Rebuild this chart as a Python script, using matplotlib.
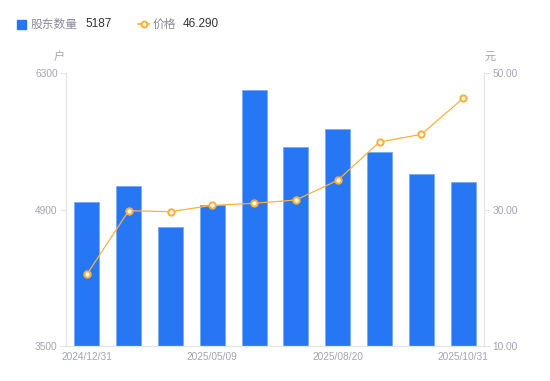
import matplotlib
matplotlib.use("Agg")
import matplotlib.pyplot as plt
from matplotlib.lines import Line2D
import numpy as np

plt.rcParams['font.family'] = ['Noto Sans CJK SC', 'DejaVu Sans']

categories = ["2024/12/31", "", "", "2025/05/09", "", "", "2025/08/20", "", "", "2025/10/31"]
holders = [4974, 5138, 4717, 4943, 6122, 5538, 5722, 5490, 5264, 5187]
prices = [20.50, 29.82, 29.68, 30.61, 30.91, 31.39, 34.28, 39.89, 41.01, 46.29]
left_ticks = [3500, 4900, 6300]
right_ticks = [10, 30, 50]

BLUE = "#2777f4"
ORANGE = "#fbb13c"
GRAY_TXT = "#a3a3b3"
AXIS_C = "#e3e3e8"

fig = plt.figure(figsize=(5.5, 3.81), dpi=100)
ax = fig.add_axes([66/550, 1-346/381, (484-66)/550, (346-73)/381])
x = np.arange(len(holders))
ax.bar(x, np.array(holders) - left_ticks[0], bottom=left_ticks[0], width=0.6,
       color=BLUE, edgecolor="#7aaaf7", linewidth=0.6, zorder=2)
ax.set_xlim(-0.5, len(holders) - 0.5)
ax.set_ylim(left_ticks[0], left_ticks[-1])
ax.set_yticks(left_ticks)
ax.set_yticklabels([str(t) for t in left_ticks])
ax.set_xticks(x)
ax.set_xticklabels(categories)
ax.tick_params(axis='x', length=0, pad=4, labelsize=7.3, labelcolor=GRAY_TXT)
ax.tick_params(axis='y', length=4, width=0.8, color=AXIS_C, pad=2, labelsize=7.3, labelcolor=GRAY_TXT)
for lab in ax.get_xticklabels() + ax.get_yticklabels():
    lab.set_family(['Liberation Sans', 'DejaVu Sans'])
for s in ['top', 'right']:
    ax.spines[s].set_visible(False)
for s in ['left', 'bottom']:
    ax.spines[s].set_color(AXIS_C)
    ax.spines[s].set_linewidth(0.9)

ax2 = ax.twinx()
ax2.plot(x, prices, color=ORANGE, linewidth=0.9, marker='o', markersize=4.5,
         markerfacecolor='white', markeredgecolor=ORANGE, markeredgewidth=1.5, zorder=3)
ax2.set_ylim(right_ticks[0], right_ticks[-1])
ax2.set_yticks(right_ticks)
ax2.set_yticklabels([f"{t:.2f}" for t in right_ticks])
ax2.tick_params(axis='y', length=4, width=0.8, color=AXIS_C, pad=2, labelsize=7.3, labelcolor=GRAY_TXT)
for lab in ax2.get_yticklabels():
    lab.set_family(['Liberation Sans', 'DejaVu Sans'])
for s in ['top', 'left', 'bottom']:
    ax2.spines[s].set_visible(False)
ax2.spines['right'].set_color(AXIS_C)
ax2.spines['right'].set_linewidth(0.9)

# unit labels
fig.text(59/550, 1-57/381, "户", fontsize=8, color=GRAY_TXT, ha='center', va='center')
fig.text(490/550, 1-57/381, "元", fontsize=8, color=GRAY_TXT, ha='center', va='center')

# legend
fig.patches.append(plt.Rectangle((17/550, 1-29/381), 9/550, 9/381, transform=fig.transFigure,
                                 color=BLUE, figure=fig))
fig.text(31/550, 1-24/381, "股东数量", fontsize=8.5, color="#8a8a96", va='center', ha='left')
fig.text(85/550, 1-24/381, f"{holders[-1]}", fontsize=8.5, color="#333333", va='center', ha='left',
         family=['Liberation Sans', 'DejaVu Sans'])
fig.lines.append(Line2D([138/550, 149/550], [1-24/381, 1-24/381], transform=fig.transFigure,
                        color=ORANGE, linewidth=1.2, marker='o', markevery=[0], markersize=0))
fig.lines.append(Line2D([143.5/550], [1-24/381], transform=fig.transFigure,
                        color=ORANGE, marker='o', markersize=4.2, markerfacecolor='white',
                        markeredgecolor=ORANGE, markeredgewidth=1.5, linestyle='none'))
fig.text(153/550, 1-24/381, "价格", fontsize=8.5, color="#8a8a96", va='center', ha='left')
fig.text(183/550, 1-24/381, f"{prices[-1]:.3f}", fontsize=8.5, color="#333333", va='center', ha='left',
         family=['Liberation Sans', 'DejaVu Sans'])

fig.savefig("out.png", dpi=100)
